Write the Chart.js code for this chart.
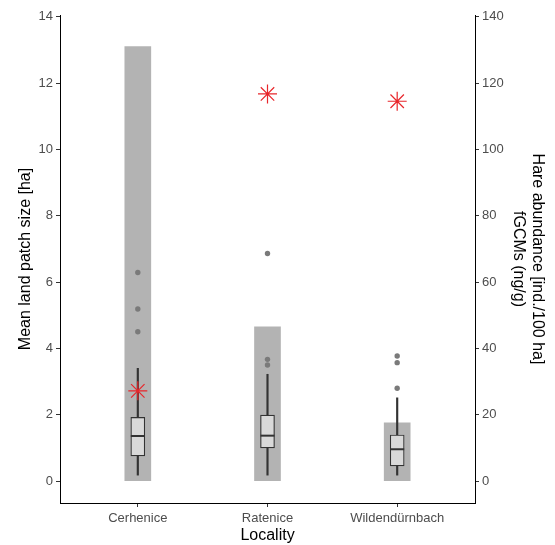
<!DOCTYPE html>
<html>
<head>
<meta charset="utf-8">
<script src="https://cdn.jsdelivr.net/npm/chart.js@4"></script>
<style>
  body { margin: 0; background: #fff; }
  #wrap { width: 555px; height: 545px; }
</style>
</head>
<body>
<div id="wrap"><canvas id="chart"></canvas></div>
<script>
var localities = ['Cerhenice', 'Ratenice', 'Wildendürnbach'];
var patchSize = [13.1, 4.65, 1.76];
var hareAbundance = [27.2, 116.7, 114.5];
var fgcmLow = [1.8, 1.8, 1.8];
var fgcmQ1 = [7.6, 10.0, 4.6];
var fgcmMedian = [13.6, 13.7, 9.6];
var fgcmQ3 = [19.2, 19.9, 13.9];
var fgcmHigh = [34.0, 32.2, 25.1];
var fgcmOutliers = [[62.9, 51.9, 45.0], [68.6, 36.7, 35.0], [37.7, 35.7, 28.0]];
var leftTicks = [0, 2, 4, 6, 8, 10, 12, 14];
var rightTicks = [0, 20, 40, 60, 80, 100, 120, 140];

var pos = localities.map(function (l, i) { return i + 1; });

var outlierPts = [];
fgcmOutliers.forEach(function (arr, i) {
  arr.forEach(function (v) { outlierPts.push({x: pos[i], y: v}); });
});

var tickFont = {family: 'Liberation Sans, Arial, sans-serif', size: 13};
var titleFont = {family: 'Liberation Sans, Arial, sans-serif', size: 16};

var ctx = document.getElementById('chart').getContext('2d');
var chart = new Chart(ctx, {
  data: {
    datasets: [
      {
        type: 'bar',
        label: 'patch',
        data: pos.map(function (x, i) { return {x: x, y: patchSize[i]}; }),
        backgroundColor: '#b3b3b3',
        barThickness: 26,
        grouped: false,
        yAxisID: 'y',
        order: 6
      },
      {
        type: 'bar',
        label: 'whisker low',
        data: pos.map(function (x, i) { return {x: x, y: [fgcmLow[i], fgcmQ1[i]]}; }),
        backgroundColor: '#333333',
        barThickness: 1.5,
        grouped: false,
        yAxisID: 'y2',
        order: 5
      },
      {
        type: 'bar',
        label: 'whisker high',
        data: pos.map(function (x, i) { return {x: x, y: [fgcmQ3[i], fgcmHigh[i]]}; }),
        backgroundColor: '#333333',
        barThickness: 1.5,
        grouped: false,
        yAxisID: 'y2',
        order: 5
      },
      {
        type: 'bar',
        label: 'box',
        data: pos.map(function (x, i) { return {x: x, y: [fgcmQ1[i], fgcmQ3[i]]}; }),
        backgroundColor: '#d9d9d9',
        borderColor: '#333333',
        borderWidth: 1.2,
        borderSkipped: false,
        barThickness: 14,
        grouped: false,
        yAxisID: 'y2',
        order: 4
      },
      {
        type: 'scatter',
        label: 'median',
        data: pos.map(function (x, i) { return {x: x, y: fgcmMedian[i]}; }),
        pointStyle: 'line',
        radius: 7,
        borderColor: '#333333',
        borderWidth: 2,
        yAxisID: 'y2',
        order: 3
      },
      {
        type: 'scatter',
        label: 'outliers',
        data: outlierPts,
        pointStyle: 'circle',
        radius: 2.7,
        backgroundColor: '#7a7a7a',
        borderWidth: 0,
        yAxisID: 'y2',
        order: 2
      },
      {
        type: 'scatter',
        label: 'hare',
        data: pos.map(function (x, i) { return {x: x, y: hareAbundance[i]}; }),
        pointStyle: 'star',
        radius: 9.5,
        borderColor: '#e8262b',
        borderWidth: 1.2,
        yAxisID: 'y2',
        order: 1
      }
    ]
  },
  options: {
    responsive: true,
    maintainAspectRatio: false,
    animation: false,
    layout: { padding: { top: 15, left: 0, right: 0, bottom: 0 } },
    plugins: { legend: { display: false }, tooltip: { enabled: false } },
    scales: {
      x: {
        type: 'linear',
        offset: false,
        min: 0.4,
        max: 3.6,
        afterBuildTicks: function (s) { s.ticks = pos.map(function (v) { return {value: v}; }); },
        afterFit: function (s) { s.height = 42; },
        ticks: {
          color: '#4d4d4d', font: tickFont, padding: 4,
          callback: function (v) { return localities[v - 1]; }
        },
        grid: { drawOnChartArea: false, offset: false, tickLength: 4, color: '#333333' },
        border: { color: '#000000', width: 1 },
        title: { display: true, text: 'Locality', color: '#000', font: titleFont, padding: { top: 0, bottom: 0 } }
      },
      y: {
        position: 'left',
        min: -0.66,
        max: 14.05,
        afterBuildTicks: function (s) { s.ticks = leftTicks.map(function (v) { return {value: v}; }); },
        afterFit: function (s) { s.width = 60; },
        ticks: { color: '#4d4d4d', font: tickFont, padding: 3 },
        grid: { drawOnChartArea: false, tickLength: 4, color: '#333333' },
        border: { color: '#000000', width: 1 },
        title: { display: true, text: 'Mean land patch size [ha]', color: '#000', font: titleFont, padding: { top: 16, bottom: 0 } }
      },
      y2: {
        position: 'right',
        min: -6.6,
        max: 140.5,
        afterBuildTicks: function (s) { s.ticks = rightTicks.map(function (v) { return {value: v}; }); },
        afterFit: function (s) { s.width = 80; },
        ticks: { color: '#4d4d4d', font: tickFont, padding: 3 },
        grid: { drawOnChartArea: false, tickLength: 4, color: '#333333' },
        border: { color: '#000000', width: 1 },
        title: {
          display: true,
          text: ['Hare abundance [ind./100 ha]', 'fGCMs (ng/g)'],
          color: '#000', font: titleFont, padding: { top: 8, bottom: 0 }
        }
      }
    }
  }
});
</script>
</body>
</html>
